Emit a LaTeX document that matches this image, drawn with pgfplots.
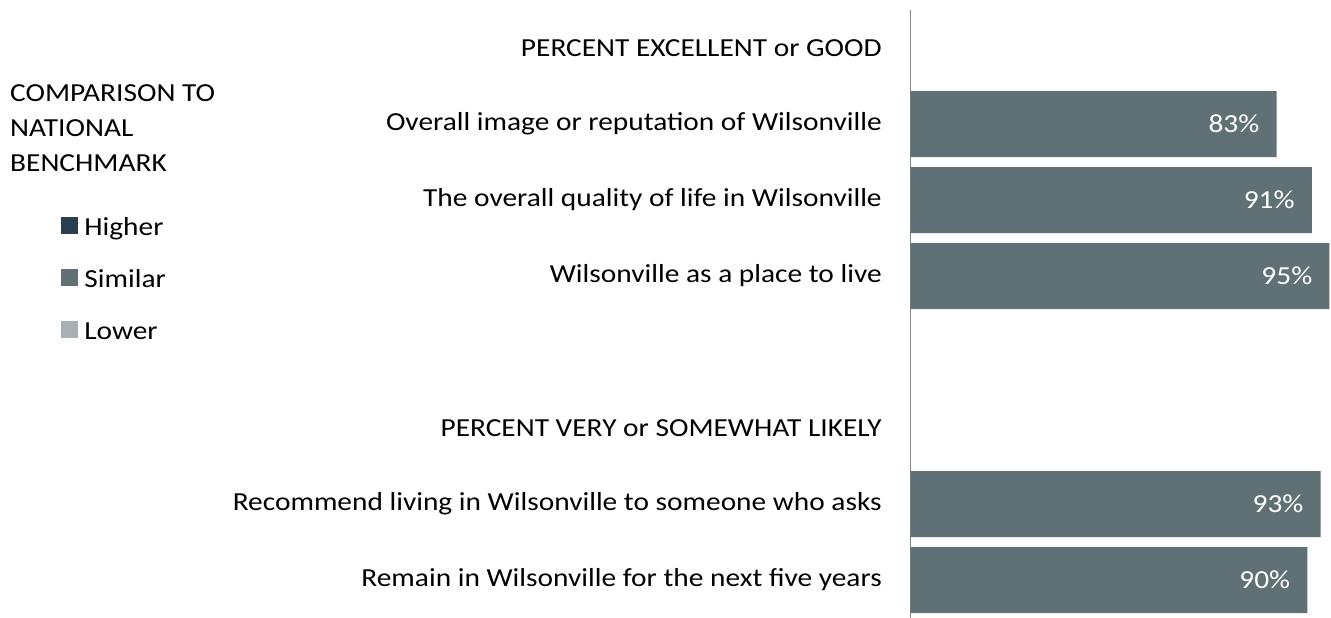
\documentclass[border=0pt]{standalone}
\usepackage{fontspec}
\setmainfont{Carlito}[FakeStretch=1.13]
\usepackage{pgfplots}
\pgfplotsset{compat=1.18}
\definecolor{higher}{RGB}{41,62,80}
\definecolor{similar}{RGB}{96,113,118}
\definecolor{lower}{RGB}{168,175,181}
\definecolor{axisgray}{RGB}{134,134,134}
\begin{document}
\begin{tikzpicture}[font=\fontsize{26}{31}\selectfont]
\begin{axis}[
  at={(0pt,0pt)}, anchor=south west,
  scale only axis, width=420.5pt, height=608pt,
  xbar, bar width=66pt, bar shift=0pt,
  xmin=0, xmax=95.35, ymin=-0.5, ymax=7.5, y dir=reverse,
  axis x line=none, axis y line*=left,
  y axis line style={axisgray, line width=1.5pt, -},
  xtick=\empty, ytick={0,...,7}, major tick length=0pt,
  yticklabels={PERCENT EXCELLENT or GOOD, Overall image or reputation of Wilsonville, The overall quality of life in Wilsonville, Wilsonville as a place to live, {}, PERCENT VERY or SOMEWHAT LIKELY, Recommend living in Wilsonville to someone who asks, Remain in Wilsonville for the next five years},
  y tick label style={anchor=east, inner sep=0pt, xshift=-28.5pt, text=black, font=\fontsize{26}{31}\selectfont},
  /pgf/number format/assume math mode=true,
  point meta=x,
  nodes near coords={\pgfmathprintnumber[assume math mode=true]{\pgfplotspointmeta}\%},
  nodes near coords align={anchor=east},
  nodes near coords style={anchor=east, inner sep=0pt, xshift=-17pt, text=white, font=\fontsize{26}{31}\selectfont},
  legend style={at={(axis description cs:-2.0202,0.6595)}, anchor=north west, draw=none, fill=none, inner sep=0pt, outer sep=0pt, row sep=28.9pt, column sep=7pt, font=\fontsize{26}{31}\selectfont, nodes={inner sep=0pt, text height=17pt, text depth=5pt}},
  legend cell align=left,
]
\addlegendimage{legend image code/.code={\fill[higher] (0pt,-4pt) rectangle (16pt,12pt);}}
\addlegendentry{Higher}
\addlegendimage{legend image code/.code={\fill[similar] (0pt,-4pt) rectangle (16pt,12pt);}}
\addlegendentry{Similar}
\addlegendimage{legend image code/.code={\fill[lower] (0pt,-4pt) rectangle (16pt,12pt);}}
\addlegendentry{Lower}
\addplot[fill=similar, draw=none, forget plot] coordinates {(83,1) (91,2) (95,3) (93,6) (90,7)};
\end{axis}
\node[anchor=base west, inner sep=0pt] at (-900.5pt,516.3pt) {COMPARISON TO};
\node[anchor=base west, inner sep=0pt] at (-900.5pt,481.3pt) {NATIONAL};
\node[anchor=base west, inner sep=0pt] at (-900.5pt,446.3pt) {BENCHMARK};
\pgfresetboundingbox
\useasboundingbox (-910.5pt,0pt) rectangle (420.5pt,618pt);
\end{tikzpicture}
\end{document}
